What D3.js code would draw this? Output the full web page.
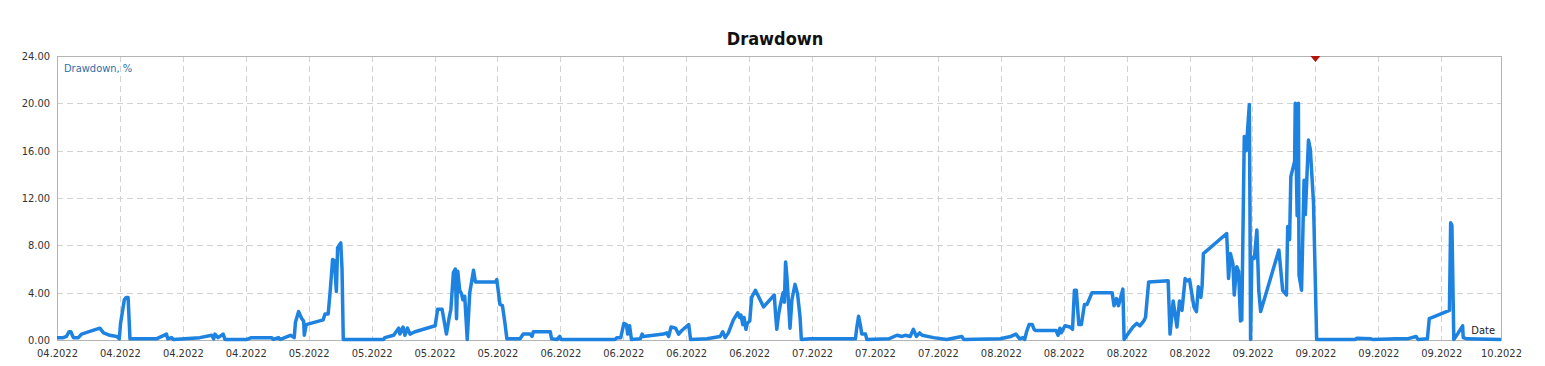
<!DOCTYPE html>
<html>
<head>
<meta charset="utf-8">
<script src="https://cdn.jsdelivr.net/npm/d3@7"></script>
<style>
  body { margin: 0; background: #fff; }
  svg text { font-family: "DejaVu Sans Condensed", "Liberation Sans", sans-serif; }
</style>
</head>
<body>
<div id="chart"></div>
<script>
// axis labels (one per vertical grid line, last one sits on the right border)
const xTickLabels = [
  '04.2022', '04.2022', '04.2022', '04.2022',
  '05.2022', '05.2022', '05.2022', '05.2022',
  '06.2022', '06.2022', '06.2022', '06.2022',
  '07.2022', '07.2022', '07.2022',
  '08.2022', '08.2022', '08.2022', '08.2022',
  '09.2022', '09.2022', '09.2022', '09.2022',
  '10.2022'
]
const xEnd = 22.95
const yTicks = [0, 4, 8, 12, 16, 20, 24]

// drawdown series: position along the axis (in grid steps) and value in %
const ddPos = [
  0.00, 0.10, 0.15, 0.19, 0.22, 0.26, 0.34, 0.39, 0.68, 0.74, 0.84, 0.95, 0.99, 1.01, 1.07, 1.10, 1.13, 1.16,
  1.58, 1.74, 1.76, 1.82, 1.85, 2.27, 2.46, 2.49, 2.51, 2.56, 2.64, 2.67, 3.02, 3.09, 3.41, 3.44, 3.52, 3.55,
  3.71, 3.77, 3.79, 3.84, 3.89, 3.92, 3.93, 3.96, 4.23, 4.26, 4.31, 4.34, 4.38, 4.41, 4.44, 4.46, 4.51, 4.53,
  4.55, 5.19, 5.21, 5.35, 5.43, 5.45, 5.50, 5.53, 5.57, 5.61, 5.69, 6.01, 6.05, 6.12, 6.19, 6.23, 6.26, 6.30,
  6.33, 6.35, 6.37, 6.40, 6.43, 6.45, 6.48, 6.52, 6.56, 6.62, 6.65, 6.97, 6.99, 7.04, 7.08, 7.12, 7.15, 7.36,
  7.41, 7.52, 7.55, 7.57, 7.84, 7.86, 7.95, 7.99, 8.01, 8.87, 8.90, 8.96, 9.01, 9.05, 9.07, 9.10, 9.13, 9.27,
  9.30, 9.32, 9.64, 9.69, 9.72, 9.76, 9.83, 9.88, 9.93, 10.04, 10.07, 10.33, 10.54, 10.58, 10.62, 10.67, 10.75,
  10.82, 10.85, 10.87, 10.90, 10.92, 10.95, 10.97, 11.01, 11.04, 11.10, 11.23, 11.40, 11.42, 11.44, 11.47,
  11.49, 11.54, 11.56, 11.58, 11.60, 11.63, 11.65, 11.68, 11.73, 11.77, 11.81, 11.83, 11.97, 12.34, 12.48,
  12.69, 12.71, 12.74, 12.77, 12.79, 12.85, 12.87, 13.22, 13.35, 13.43, 13.48, 13.56, 13.61, 13.66, 13.71,
  13.75, 13.93, 14.14, 14.38, 14.41, 14.99, 15.16, 15.24, 15.30, 15.35, 15.38, 15.41, 15.45, 15.50, 15.53,
  15.55, 15.88, 15.91, 15.94, 15.96, 16.02, 16.10, 16.14, 16.17, 16.20, 16.24, 16.28, 16.33, 16.37, 16.45,
  16.77, 16.80, 16.84, 16.87, 16.94, 16.96, 17.02, 17.10, 17.16, 17.21, 17.27, 17.30, 17.35, 17.66, 17.69,
  17.74, 17.80, 17.84, 17.88, 17.93, 17.96, 18.00, 18.07, 18.11, 18.14, 18.18, 18.20, 18.22, 18.59, 18.62,
  18.65, 18.69, 18.71, 18.75, 18.78, 18.81, 18.83, 18.87, 18.90, 18.95, 18.96, 18.97, 18.99, 19.03, 19.07,
  19.10, 19.13, 19.42, 19.48, 19.54, 19.56, 19.59, 19.61, 19.67, 19.68, 19.71, 19.73, 19.74, 19.78, 19.82,
  19.84, 19.89, 19.92, 19.97, 20.02, 20.63, 20.66, 20.88, 20.91, 21.30, 21.46, 21.60, 21.63, 21.78, 21.81,
  21.85, 22.13, 22.15, 22.17, 22.20, 22.27, 22.34, 22.35, 22.41, 22.95
]
const ddPct = [
  0.2, 0.2, 0.3, 0.7, 0.7, 0.2, 0.2, 0.5, 1.0, 0.6, 0.4, 0.3, 0.1, 1.4, 3.4, 3.6, 3.6, 0.1,
  0.1, 0.5, 0.1, 0.2, 0.05, 0.2, 0.4, 0.1, 0.5, 0.2, 0.5, 0.05, 0.05, 0.2, 0.2, 0.05, 0.2, 0.05,
  0.4, 0.2, 1.5, 2.4, 1.8, 1.6, 0.4, 1.3, 1.7, 2.2, 2.2, 4.0, 6.8, 6.7, 4.1, 7.8, 8.2, 6.0,
  0.05, 0.05, 0.2, 0.4, 1.0, 0.5, 1.1, 0.4, 1.0, 0.5, 0.7, 1.2, 2.6, 2.6, 0.5, 1.8, 2.6, 5.7,
  6.0, 1.8, 5.8, 4.2, 3.9, 3.4, 3.7, 0.05, 4.0, 5.9, 4.9, 4.9, 5.1, 3.0, 2.9, 1.4, 0.1, 0.1,
  0.5, 0.5, 0.3, 0.7, 0.7, 0.1, 0.05, 0.3, 0.05, 0.05, 0.2, 0.2, 1.4, 1.3, 0.5, 1.2, 0.05, 0.1,
  0.5, 0.3, 0.5, 0.6, 0.3, 1.1, 1.0, 0.5, 0.8, 1.3, 0.05, 0.1, 0.3, 0.7, 0.2, 0.6, 1.7,
  2.3, 1.9, 2.1, 1.3, 1.9, 0.9, 1.4, 1.6, 3.6, 4.2, 2.8, 3.8, 2.2, 0.9, 2.2,
  2.8, 4.0, 3.2, 6.6, 5.4, 2.8, 1.0, 3.4, 4.7, 3.9, 1.9, 0.05, 0.1, 0.1, 0.1,
  0.1, 1.0, 2.0, 1.2, 0.5, 0.5, 0.05, 0.1, 0.4, 0.3, 0.4, 0.3, 0.9, 0.3, 0.6,
  0.4, 0.2, 0.05, 0.3, 0.05, 0.1, 0.3, 0.5, 0.1, 0.2, 0.05, 0.7, 1.3, 1.3, 0.9,
  0.8, 0.8, 0.4, 1.0, 0.6, 1.2, 1.1, 0.9, 4.2, 4.2, 1.3, 1.3, 3.0, 3.0, 4.0,
  4.0, 2.9, 3.5, 2.9, 4.3, 0.05, 0.5, 1.1, 1.4, 1.2, 1.6, 1.9, 4.9, 5.0, 0.5,
  3.3, 1.1, 3.3, 2.5, 5.2, 5.0, 5.1, 2.8, 2.4, 4.5, 3.6, 4.6, 7.3, 9.0, 5.2,
  7.3, 6.4, 3.8, 6.2, 5.8, 1.6, 1.7, 17.2, 16.0, 19.9, 11.3, 0.05, 7.0, 6.9, 9.3,
  4.2, 2.4, 7.6, 4.2, 3.8, 9.6, 8.5, 13.8, 15.1, 20.0, 10.5, 20.0, 5.5, 4.2, 13.5,
  10.6, 16.9, 16.1, 11.6, 0.05, 0.05, 0.15, 0.1, 0.05, 0.1, 0.1, 0.3, 0.05, 0.1, 1.8,
  1.9, 2.5, 9.9, 9.7, 0.05, 0.6, 1.2, 0.2, 0.1, 0.05
]
// max drawdown marker on the top border
const markerPos = [20]

const width = 1545
const height = 366
const plotLeft = 57
const plotRight = 1501
const plotTop = 56
const plotBottom = 340

const svg = d3.select('#chart')
  .append('svg')
  .attr('width', width)
  .attr('height', height)

const x = d3.scaleLinear().domain([0, xEnd]).range([plotLeft, plotRight])
const y = d3.scaleLinear().domain([0, 24]).range([plotBottom, plotTop])

const xTickPos = xTickLabels.map((d, i) => i < xTickLabels.length - 1 ? i : xEnd)

// title
svg.append('text')
  .attr('x', 775)
  .attr('y', 45)
  .attr('text-anchor', 'middle')
  .style('font-size', '18px')
  .style('font-weight', 'bold')
  .style('fill', '#111')
  .text('Drawdown')

// dashed grid
const grid = svg.append('g').attr('class', 'grid')
grid.selectAll('line.v')
  .data(xTickPos.slice(1, -1))
  .enter()
  .append('line')
  .attr('class', 'v')
  .attr('x1', d => Math.round(x(d)) + 0.5)
  .attr('x2', d => Math.round(x(d)) + 0.5)
  .attr('y1', plotTop)
  .attr('y2', plotBottom)
grid.selectAll('line.h')
  .data(yTicks.slice(1, -1))
  .enter()
  .append('line')
  .attr('class', 'h')
  .attr('x1', plotLeft)
  .attr('x2', plotRight)
  .attr('y1', d => Math.round(y(d)) + 0.5)
  .attr('y2', d => Math.round(y(d)) + 0.5)
grid.selectAll('line')
  .style('stroke', '#d2d2d2')
  .style('stroke-dasharray', '6,4')

// frame
svg.append('rect')
  .attr('x', plotLeft + 0.5)
  .attr('y', plotTop + 0.5)
  .attr('width', plotRight - plotLeft)
  .attr('height', plotBottom - plotTop)
  .style('fill', 'none')
  .style('stroke', '#b4b4b4')

// axes
const yAxis = d3.axisLeft(y)
  .tickValues(yTicks)
  .tickFormat(d3.format('.2f'))
  .tickSize(0)
  .tickPadding(7)
svg.append('g')
  .attr('transform', 'translate(' + plotLeft + ',0)')
  .call(yAxis)
  .call(g => g.select('.domain').remove())

const xAxis = d3.axisBottom(x)
  .tickValues(xTickPos)
  .tickFormat((d, i) => xTickLabels[i])
  .tickSize(0)
  .tickPadding(9)
svg.append('g')
  .attr('transform', 'translate(0,' + plotBottom + ')')
  .call(xAxis)
  .call(g => g.select('.domain').remove())

svg.selectAll('.tick text')
  .style('font-family', '"DejaVu Sans Condensed", "Liberation Sans", sans-serif')
  .style('font-size', '11px')
  .style('fill', '#333')

// series
const line = d3.line()
  .x(d => x(d[0]))
  .y(d => y(d[1]))

svg.append('path')
  .datum(d3.zip(ddPos, ddPct))
  .attr('d', line)
  .style('fill', 'none')
  .style('stroke', '#1e82e0')
  .style('stroke-width', 3.5)
  .style('stroke-linejoin', 'round')

// marker
svg.selectAll('path.marker')
  .data(markerPos)
  .enter()
  .append('path')
  .attr('class', 'marker')
  .attr('d', d => {
    const cx = x(d)
    const cy = y(24)
    return 'M' + (cx - 5) + ',' + cy + 'L' + (cx + 5) + ',' + cy + 'L' + cx + ',' + (cy + 6) + 'Z'
  })
  .style('fill', '#b3140f')

// labels inside the plot
svg.append('text')
  .attr('x', plotLeft + 7)
  .attr('y', plotTop + 16)
  .style('font-size', '11px')
  .style('fill', '#2f6ea9')
  .text('Drawdown, %')

svg.append('text')
  .attr('x', plotRight - 6)
  .attr('y', plotBottom - 6)
  .attr('text-anchor', 'end')
  .style('font-size', '11px')
  .style('fill', '#222')
  .text('Date')
</script>
</body>
</html>
